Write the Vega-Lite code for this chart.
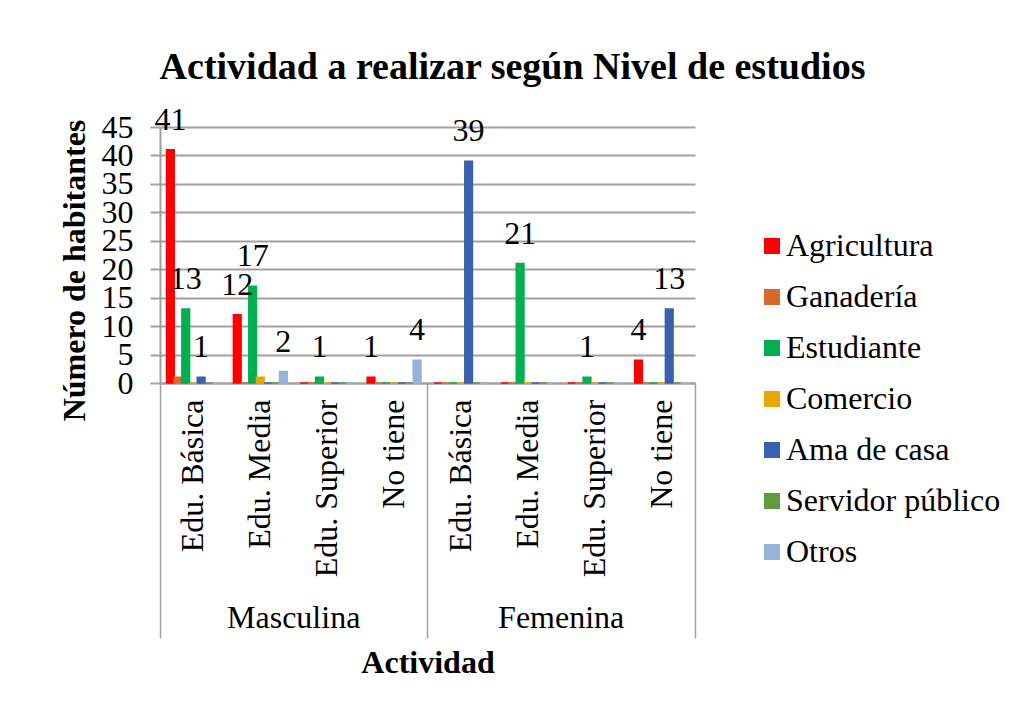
{
  "$schema": "https://vega.github.io/schema/vega-lite/v6.json",
  "width": 535,
  "height": 256,
  "autosize": "none",
  "padding": {"left": 160, "top": 127, "right": 320, "bottom": 325},
  "background": "white",
  "config": {
    "font": "Liberation Serif",
    "view": {"stroke": null},
    "axis": {"labelColor": "black", "titleColor": "black", "labelFont": "Liberation Serif", "titleFont": "Liberation Serif"},
    "axisY": {
      "values": [0, 5, 10, 15, 20, 25, 30, 35, 40, 45],
      "labelOverlap": false,
      "titleFontSize": 32, "titleFontWeight": "bold", "titlePadding": 10, "titleY": 143,
      "labelFontSize": 32, "labelPadding": 17,
      "tickColor": "#a0a0a0", "tickSize": 10, "tickWidth": 2,
      "domainColor": "#a0a0a0", "domainWidth": 2,
      "gridColor": "#a0a0a0", "gridWidth": 2
    },
    "legend": {"labelFont": "Liberation Serif"}
  },
  "title": {
    "text": "Actividad a realizar según Nivel de estudios",
    "font": "Liberation Serif",
    "fontSize": 38,
    "fontWeight": "bold",
    "color": "black",
    "anchor": "middle",
    "frame": "group",
    "dx": 85,
    "offset": 17
  },
  "data": {
    "values": [
      {"cat": "Masculina|Edu. Básica", "serie": "Agricultura", "valor": 41},
      {"cat": "Masculina|Edu. Básica", "serie": "Ganadería", "valor": 1},
      {"cat": "Masculina|Edu. Básica", "serie": "Estudiante", "valor": 13},
      {"cat": "Masculina|Edu. Básica", "serie": "Comercio", "valor": 0},
      {"cat": "Masculina|Edu. Básica", "serie": "Ama de casa", "valor": 1},
      {"cat": "Masculina|Edu. Básica", "serie": "Servidor público", "valor": 0},
      {"cat": "Masculina|Edu. Básica", "serie": "Otros", "valor": 0},
      {"cat": "Masculina|Edu. Media", "serie": "Agricultura", "valor": 12},
      {"cat": "Masculina|Edu. Media", "serie": "Ganadería", "valor": 0},
      {"cat": "Masculina|Edu. Media", "serie": "Estudiante", "valor": 17},
      {"cat": "Masculina|Edu. Media", "serie": "Comercio", "valor": 1},
      {"cat": "Masculina|Edu. Media", "serie": "Ama de casa", "valor": 0},
      {"cat": "Masculina|Edu. Media", "serie": "Servidor público", "valor": 0},
      {"cat": "Masculina|Edu. Media", "serie": "Otros", "valor": 2},
      {"cat": "Masculina|Edu. Superior", "serie": "Agricultura", "valor": 0},
      {"cat": "Masculina|Edu. Superior", "serie": "Ganadería", "valor": 0},
      {"cat": "Masculina|Edu. Superior", "serie": "Estudiante", "valor": 1},
      {"cat": "Masculina|Edu. Superior", "serie": "Comercio", "valor": 0},
      {"cat": "Masculina|Edu. Superior", "serie": "Ama de casa", "valor": 0},
      {"cat": "Masculina|Edu. Superior", "serie": "Servidor público", "valor": 0},
      {"cat": "Masculina|Edu. Superior", "serie": "Otros", "valor": 0},
      {"cat": "Masculina|No tiene", "serie": "Agricultura", "valor": 1},
      {"cat": "Masculina|No tiene", "serie": "Ganadería", "valor": 0},
      {"cat": "Masculina|No tiene", "serie": "Estudiante", "valor": 0},
      {"cat": "Masculina|No tiene", "serie": "Comercio", "valor": 0},
      {"cat": "Masculina|No tiene", "serie": "Ama de casa", "valor": 0},
      {"cat": "Masculina|No tiene", "serie": "Servidor público", "valor": 0},
      {"cat": "Masculina|No tiene", "serie": "Otros", "valor": 4},
      {"cat": "Femenina|Edu. Básica", "serie": "Agricultura", "valor": 0},
      {"cat": "Femenina|Edu. Básica", "serie": "Ganadería", "valor": 0},
      {"cat": "Femenina|Edu. Básica", "serie": "Estudiante", "valor": 0},
      {"cat": "Femenina|Edu. Básica", "serie": "Comercio", "valor": 0},
      {"cat": "Femenina|Edu. Básica", "serie": "Ama de casa", "valor": 39},
      {"cat": "Femenina|Edu. Básica", "serie": "Servidor público", "valor": 0},
      {"cat": "Femenina|Edu. Básica", "serie": "Otros", "valor": 0},
      {"cat": "Femenina|Edu. Media", "serie": "Agricultura", "valor": 0},
      {"cat": "Femenina|Edu. Media", "serie": "Ganadería", "valor": 0},
      {"cat": "Femenina|Edu. Media", "serie": "Estudiante", "valor": 21},
      {"cat": "Femenina|Edu. Media", "serie": "Comercio", "valor": 0},
      {"cat": "Femenina|Edu. Media", "serie": "Ama de casa", "valor": 0},
      {"cat": "Femenina|Edu. Media", "serie": "Servidor público", "valor": 0},
      {"cat": "Femenina|Edu. Media", "serie": "Otros", "valor": 0},
      {"cat": "Femenina|Edu. Superior", "serie": "Agricultura", "valor": 0},
      {"cat": "Femenina|Edu. Superior", "serie": "Ganadería", "valor": 0},
      {"cat": "Femenina|Edu. Superior", "serie": "Estudiante", "valor": 1},
      {"cat": "Femenina|Edu. Superior", "serie": "Comercio", "valor": 0},
      {"cat": "Femenina|Edu. Superior", "serie": "Ama de casa", "valor": 0},
      {"cat": "Femenina|Edu. Superior", "serie": "Servidor público", "valor": 0},
      {"cat": "Femenina|Edu. Superior", "serie": "Otros", "valor": 0},
      {"cat": "Femenina|No tiene", "serie": "Agricultura", "valor": 4},
      {"cat": "Femenina|No tiene", "serie": "Ganadería", "valor": 0},
      {"cat": "Femenina|No tiene", "serie": "Estudiante", "valor": 0},
      {"cat": "Femenina|No tiene", "serie": "Comercio", "valor": 0},
      {"cat": "Femenina|No tiene", "serie": "Ama de casa", "valor": 13},
      {"cat": "Femenina|No tiene", "serie": "Servidor público", "valor": 0},
      {"cat": "Femenina|No tiene", "serie": "Otros", "valor": 0}
    ]
  },
  "resolve": {"axis": {"x": "independent"}},
  "layer": [
    {
      "mark": {"type": "bar", "strokeWidth": 1.5},
      "encoding": {
        "x": {
          "field": "cat", "type": "nominal",
          "sort": ["Masculina|Edu. Básica", "Masculina|Edu. Media", "Masculina|Edu. Superior", "Masculina|No tiene", "Femenina|Edu. Básica", "Femenina|Edu. Media", "Femenina|Edu. Superior", "Femenina|No tiene"],
          "scale": {"paddingInner": 0, "paddingOuter": 0},
          "axis": {
            "orient": "bottom",
            "title": null, "grid": false, "ticks": false,
            "labelExpr": "split(datum.value, '|')[1]",
            "labelAngle": -90, "labelAlign": "right", "labelBaseline": "middle",
            "labelFontSize": 32, "labelPadding": 16, "labelLimit": 400,
            "domain": true, "domainColor": "#a0a0a0", "domainWidth": 2
          }
        },
        "xOffset": {
          "field": "serie", "type": "nominal",
          "sort": ["Agricultura", "Ganadería", "Estudiante", "Comercio", "Ama de casa", "Servidor público", "Otros"],
          "scale": {"paddingInner": 0, "paddingOuter": 0.85}
        },
        "y": {
          "field": "valor", "type": "quantitative",
          "scale": {"domain": [0, 45]},
          "axis": {"title": "Número de habitantes"}
        },
        "color": {
          "field": "serie", "type": "nominal",
          "sort": ["Agricultura", "Ganadería", "Estudiante", "Comercio", "Ama de casa", "Servidor público", "Otros"],
          "scale": {
            "domain": ["Agricultura", "Ganadería", "Estudiante", "Comercio", "Ama de casa", "Servidor público", "Otros"],
            "range": ["#ff0000", "#d9692a", "#00b050", "#e8a800", "#3a62ac", "#5e9b3c", "#95b3d7"]
          },
          "legend": {
            "title": null, "orient": "none", "legendX": 596, "legendY": 103,
            "symbolType": "square", "symbolSize": 256, "symbolStrokeWidth": 0,
            "labelFontSize": 32, "labelColor": "black", "labelOffset": -2, "labelLimit": 400,
            "rowPadding": 19, "padding": 0
          }
        },
        "stroke": {
          "field": "serie", "type": "nominal",
          "scale": {
            "domain": ["Agricultura", "Ganadería", "Estudiante", "Comercio", "Ama de casa", "Servidor público", "Otros"],
            "range": ["#ff0000", "#d9692a", "#00b050", "#e8a800", "#3a62ac", "#5e9b3c", "#95b3d7"]
          },
          "legend": null
        }
      }
    },
    {
      "transform": [
        {"filter": "datum.valor > 0 && datum.serie != 'Ganadería' && datum.serie != 'Comercio'"}
      ],
      "mark": {"type": "text", "baseline": "alphabetic", "dy": -20, "fontSize": 32, "color": "black", "font": "Liberation Serif"},
      "encoding": {
        "x": {
          "field": "cat", "type": "nominal",
          "sort": ["Masculina|Edu. Básica", "Masculina|Edu. Media", "Masculina|Edu. Superior", "Masculina|No tiene", "Femenina|Edu. Básica", "Femenina|Edu. Media", "Femenina|Edu. Superior", "Femenina|No tiene"],
          "axis": {
            "orient": "bottom",
            "values": ["Masculina|Edu. Superior", "Femenina|Edu. Superior"],
            "bandPosition": 0,
            "labelExpr": "split(datum.value, '|')[0]",
            "labelAngle": 0, "labelAlign": "center", "labelBaseline": "middle",
            "labelFontSize": 32, "labelPadding": 234, "labelOffset": -33.5, "labelOverlap": false,
            "ticks": false, "domain": false, "grid": false,
            "title": "Actividad", "titleFontSize": 32, "titleFontWeight": "bold", "titlePadding": 64
          }
        },
        "xOffset": {
          "field": "serie", "type": "nominal",
          "sort": ["Agricultura", "Ganadería", "Estudiante", "Comercio", "Ama de casa", "Servidor público", "Otros"]
        },
        "y": {"field": "valor", "type": "quantitative", "axis": {"title": "Número de habitantes"}},
        "text": {"field": "valor", "type": "quantitative"}
      }
    },
    {
      "mark": {"type": "bar", "opacity": 0},
      "encoding": {
        "x": {
          "field": "cat", "type": "nominal",
          "sort": ["Masculina|Edu. Básica", "Masculina|Edu. Media", "Masculina|Edu. Superior", "Masculina|No tiene", "Femenina|Edu. Básica", "Femenina|Edu. Media", "Femenina|Edu. Superior", "Femenina|No tiene"],
          "axis": {
            "orient": "bottom",
            "values": ["Masculina|Edu. Básica", "Femenina|Edu. Básica"],
            "bandPosition": 0, "labels": false, "domain": false, "grid": false,
            "ticks": true, "tickSize": 255, "tickColor": "#a0a0a0", "tickWidth": 1.5,
            "title": null
          }
        }
      }
    },
    {
      "mark": {"type": "bar", "opacity": 0},
      "encoding": {
        "x": {
          "field": "cat", "type": "nominal",
          "sort": ["Masculina|Edu. Básica", "Masculina|Edu. Media", "Masculina|Edu. Superior", "Masculina|No tiene", "Femenina|Edu. Básica", "Femenina|Edu. Media", "Femenina|Edu. Superior", "Femenina|No tiene"],
          "axis": {
            "orient": "bottom",
            "values": ["Femenina|No tiene"],
            "bandPosition": 1, "labels": false, "domain": false, "grid": false,
            "ticks": true, "tickSize": 255, "tickColor": "#a0a0a0", "tickWidth": 1.5,
            "title": null
          }
        }
      }
    }
  ]
}
